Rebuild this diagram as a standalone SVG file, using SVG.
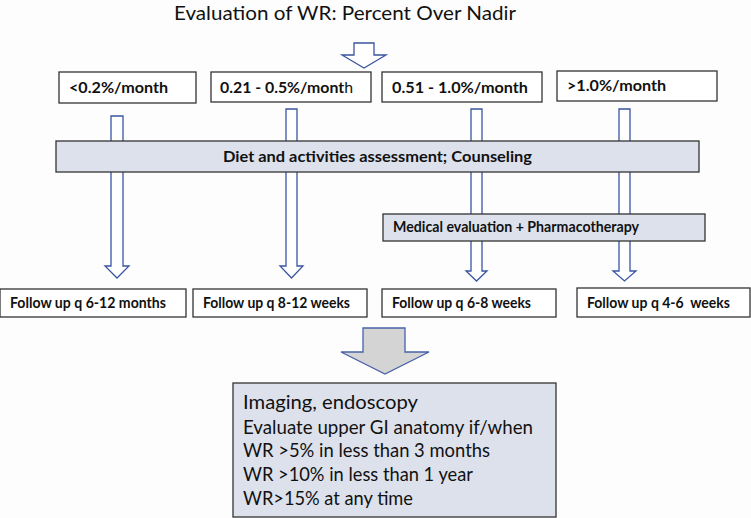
<svg xmlns="http://www.w3.org/2000/svg" width="751" height="518" viewBox="0 0 751 518">
<style>
.bg{fill:#fdfdfd}
.box{fill:#ffffff;stroke:#333333;stroke-width:1.3}
.sbox{fill:#dde1ec;stroke:#333333;stroke-width:1.3}
.arr{fill:#ffffff;stroke:#3a55a0;stroke-width:1.3;stroke-linejoin:miter}
.big{fill:#d4d4d4;stroke:#4862a8;stroke-width:1.3}
text{font-family:Lato,"Open Sans","Liberation Sans",sans-serif;fill:#111111}
.b{font-weight:bold;font-size:16px}
.t{font-size:19px}
.r{font-size:19px}
</style>
<rect class="bg" x="0" y="0" width="751" height="518"/>
<g id="title"><text class="t" x="174" y="20" textLength="342" lengthAdjust="spacingAndGlyphs">Evaluation of WR: Percent Over Nadir</text></g>
<g id="connectors">
<polygon class="arr" points="354,43 374,43 374,55 386,55 364,68 342,55 354,55"/>
<polygon class="arr" points="111,116 123,116 123,266 129,266 117,278 105,266 111,266"/>
<polygon class="arr" points="286,109 297,109 297,266 303,266 291.5,278 280,266 286,266"/>
<polygon class="arr" points="471,109 482,109 482,271 487,271 476.5,281 466,271 471,271"/>
<polygon class="arr" points="619,109 630,109 630,271 636,271 624.5,281 613,271 619,271"/>
<polygon class="big" points="363,328 405,328 405,352 429,352 385,374 341,352 363,352"/>
</g>
<g id="n-low"><rect class="box" x="59" y="72" width="137" height="31"/><text class="b" x="69" y="93" textLength="99" lengthAdjust="spacingAndGlyphs">&lt;0.2%/month</text></g>
<g id="n-mid1"><rect class="box" x="211" y="72" width="160" height="30"/><text class="b" x="220" y="93" textLength="133" lengthAdjust="spacingAndGlyphs">0.21 - 0.5%/mont<tspan font-weight="normal">h</tspan></text></g>
<g id="n-mid2"><rect class="box" x="382" y="72" width="160" height="30"/><text class="b" x="392" y="93" textLength="136" lengthAdjust="spacingAndGlyphs">0.51 - 1.0%/month</text></g>
<g id="n-high"><rect class="box" x="557" y="71" width="160" height="30"/><text class="b" x="567" y="91" textLength="99" lengthAdjust="spacingAndGlyphs">&gt;1.0%/month</text></g>
<g id="n-diet"><rect class="sbox" x="56" y="141" width="643" height="31"/><text class="b" x="223" y="162" font-size="17" textLength="309" lengthAdjust="spacingAndGlyphs">Diet and activities assessment; Counseling</text></g>
<g id="n-med"><rect class="sbox" x="383" y="214" width="322" height="27"/><text class="b" x="393" y="232" font-size="15" textLength="246" lengthAdjust="spacingAndGlyphs">Medical evaluation + Pharmacotherapy</text></g>
<g id="n-f1"><rect class="box" x="0" y="289" width="186" height="28"/><text class="b" x="10" y="308" textLength="156" lengthAdjust="spacingAndGlyphs">Follow up q 6-12 months</text></g>
<g id="n-f2"><rect class="box" x="193" y="289" width="174" height="28"/><text class="b" x="203" y="308" textLength="147" lengthAdjust="spacingAndGlyphs">Follow up q 8-12 weeks</text></g>
<g id="n-f3"><rect class="box" x="382" y="289" width="174" height="28"/><text class="b" x="392" y="308" textLength="139" lengthAdjust="spacingAndGlyphs">Follow up q 6-8 weeks</text></g>
<g id="n-f4"><rect class="box" x="577" y="288" width="173" height="29"/><text class="b" x="587" y="308" textLength="143" lengthAdjust="spacingAndGlyphs" xml:space="preserve">Follow up q 4-6  weeks</text></g>
<g id="n-imaging"><rect class="sbox" x="233" y="383" width="323" height="134"/>
<text class="r" x="243" y="409" textLength="175" lengthAdjust="spacingAndGlyphs">Imaging, endoscopy</text>
<text class="r" x="243" y="434" textLength="290" lengthAdjust="spacingAndGlyphs">Evaluate upper GI anatomy if/when</text>
<text class="r" x="243" y="457" textLength="247" lengthAdjust="spacingAndGlyphs">WR &gt;5% in less than 3 months</text>
<text class="r" x="243" y="481" textLength="230" lengthAdjust="spacingAndGlyphs">WR &gt;10% in less than 1 year</text>
<text class="r" x="243" y="505" textLength="170" lengthAdjust="spacingAndGlyphs">WR&gt;15% at any time</text>
</g>
</svg>
